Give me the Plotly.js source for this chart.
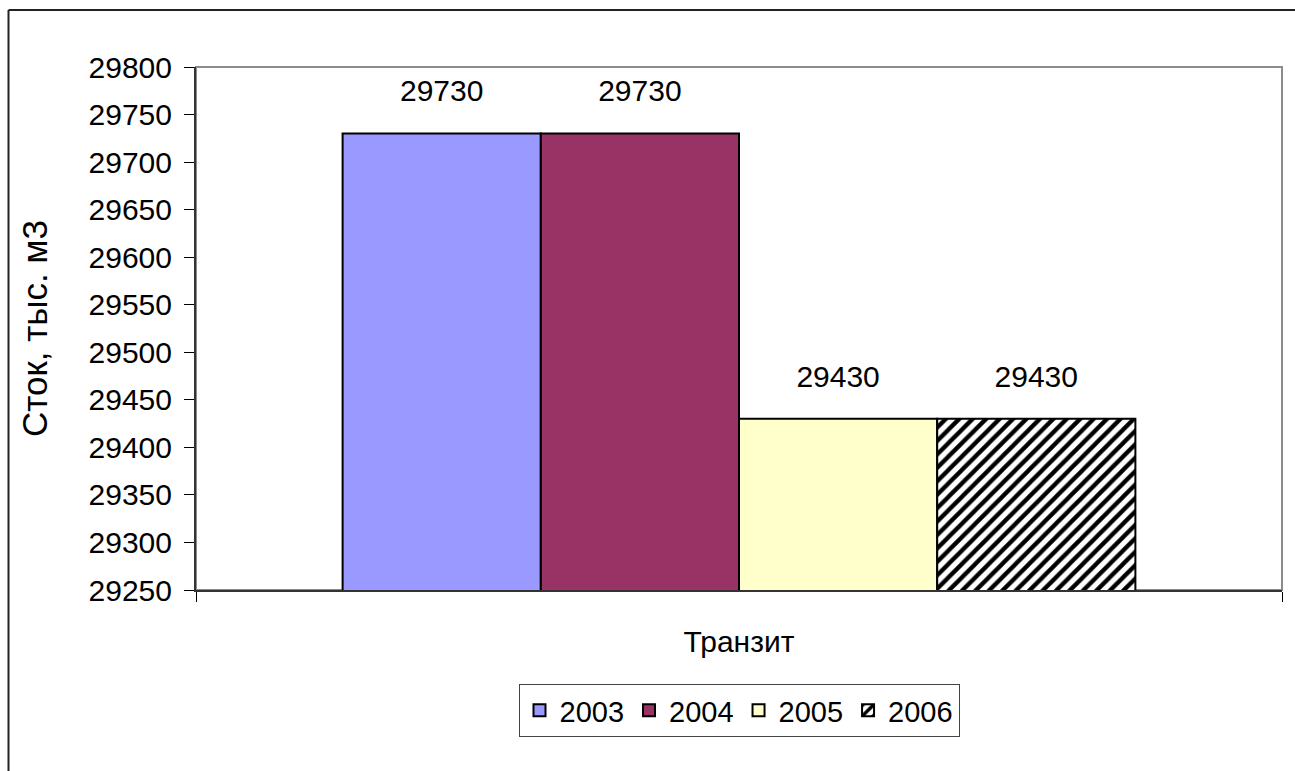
<!DOCTYPE html>
<html>
<head>
<meta charset="utf-8">
<script src="https://cdn.plot.ly/plotly-3.0.1.min.js"></script>
<style>
html,body{margin:0;padding:0;background:#fff;}
#chart{width:1295px;height:771px;}
</style>
</head>
<body>
<div id="chart"></div>
<script>
const categories = ['Транзит'];
const years = ['2003', '2004', '2005', '2006'];
const values2003 = [29730];
const values2004 = [29730];
const values2005 = [29430];
const values2006 = [29430];
const yTicks = [29250, 29300, 29350, 29400, 29450, 29500, 29550, 29600, 29650, 29700, 29750, 29800];
const yAxisTitle = 'Сток, тыс. м3';

const FONT = '"Liberation Sans", Arial, sans-serif';
const series = [values2003, values2004, values2005, values2006];
const fills = ['#9999FF', '#993366', '#FFFFCC', '#FFFFFF'];

const traces = [];
series.forEach((vals, i) => {
  const marker = {color: fills[i], line: {color: '#000', width: 2}};
  if (i === 3) {
    marker.pattern = {shape: '/', fgcolor: '#000', bgcolor: '#fff', size: 9.5, solidity: 0.45, fillmode: 'replace'};
  }
  traces.push({
    type: 'bar', name: years[i], x: categories, y: vals,
    marker: marker, offsetgroup: years[i], hoverinfo: 'y'
  });
});
series.forEach((vals, i) => {
  traces.push({
    type: 'scatter', mode: 'markers+text', x: categories, y: vals,
    text: vals.map(v => String(v)), textposition: 'top center',
    textfont: {family: FONT, size: 30, color: '#000'},
    marker: {size: 38, color: 'rgba(0,0,0,0)'},
    offsetgroup: years[i], showlegend: false, cliponaxis: false, hoverinfo: 'skip'
  });
});

const L = 196, R = 13, T = 67, B = 181, W = 1295, H = 771;
const pw = W - L - R, ph = H - T - B;
const px = v => (v - L) / pw;
const py = v => (H - B - v) / ph;

const layout = {
  width: W, height: H,
  margin: {l: L, r: R, t: T, b: B, pad: 0},
  paper_bgcolor: '#fff', plot_bgcolor: '#fff',
  barmode: 'group', bargap: 0.27, bargroupgap: 0,
  scattermode: 'group', scattergap: 0.27,
  font: {family: FONT, size: 30, color: '#000'},
  showlegend: true,
  legend: {
    orientation: 'h', x: 0.5, xanchor: 'center', y: py(684), yanchor: 'top',
    bordercolor: '#444', borderwidth: 1, bgcolor: '#fff',
    font: {family: FONT, size: 29, color: '#000'}, traceorder: 'normal',
    itemwidth: 30
  },
  xaxis: {
    type: 'category', showgrid: false, zeroline: false,
    showline: true, linecolor: '#333', linewidth: 2,
    ticks: 'outside', tickson: 'boundaries', ticklen: 10, tickcolor: '#000', tickwidth: 1,
    tickfont: {family: FONT, size: 30, color: '#000'}, ticklabelstandoff: 24,
    automargin: false
  },
  yaxis: {
    range: [29250, 29800], tickvals: yTicks, ticktext: yTicks.map(String),
    showgrid: false, zeroline: false,
    showline: true, linecolor: '#333', linewidth: 2,
    ticks: 'outside', ticklen: 10, tickcolor: '#000', tickwidth: 1,
    tickfont: {family: FONT, size: 30, color: '#000'}, ticklabelstandoff: 6,
    title: {text: yAxisTitle, font: {family: FONT, size: 35, color: '#000'}, standoff: 30},
    automargin: false
  },
  shapes: [
    {type: 'rect', xref: 'paper', yref: 'paper', x0: 0, x1: 1, y0: 0, y1: 1,
     line: {color: '#8c8c8c', width: 2}, layer: 'below'},
    {type: 'line', xref: 'paper', yref: 'paper', x0: px(8.5), x1: px(1300), y0: py(10), y1: py(10),
     line: {color: '#222', width: 2}},
    {type: 'line', xref: 'paper', yref: 'paper', x0: px(8.5), x1: px(8.5), y0: py(10), y1: py(780),
     line: {color: '#222', width: 2}}
  ]
};

Plotly.newPlot('chart', traces, layout, {displayModeBar: false, staticPlot: true});
</script>
</body>
</html>
